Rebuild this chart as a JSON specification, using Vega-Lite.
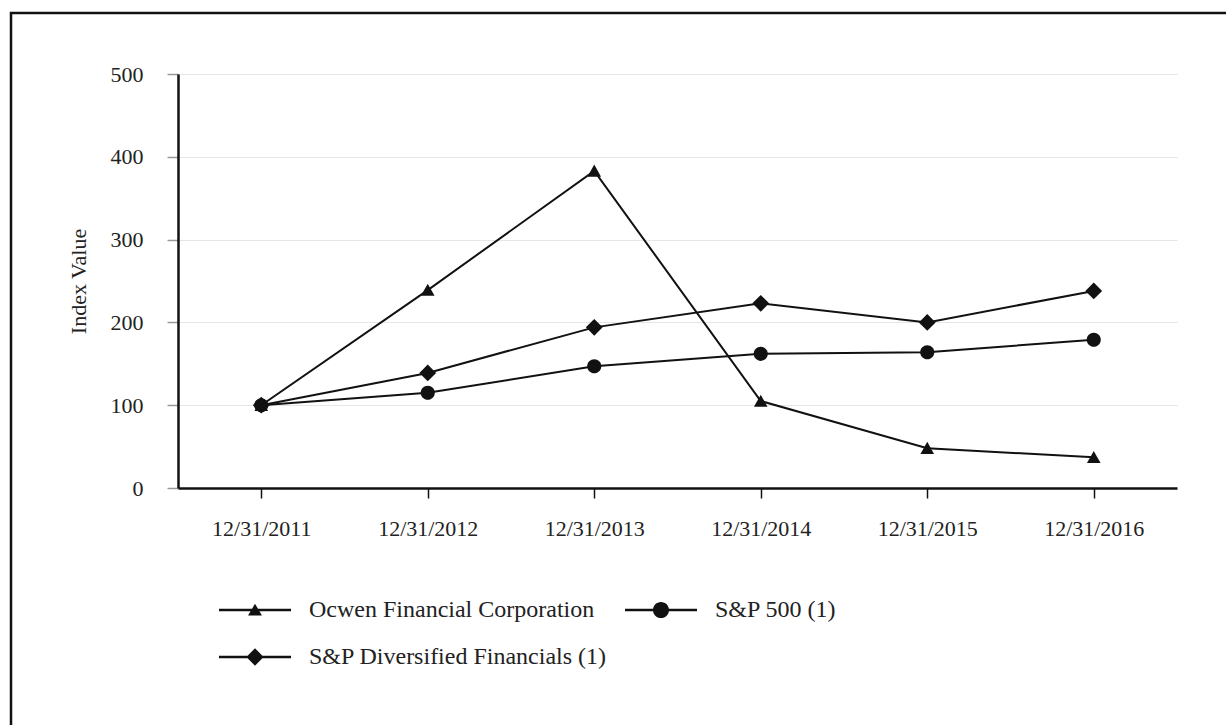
{
  "$schema": "https://vega.github.io/schema/vega-lite/v6.json",
  "width": 1221,
  "height": 718,
  "autosize": {"type": "none"},
  "padding": {"left": 11, "top": 13, "right": -6, "bottom": -6},
  "background": "white",
  "title": {
    "text": "Total Return Performance",
    "font": "Liberation Serif",
    "fontSize": 32,
    "fontWeight": "bold",
    "color": "#111",
    "anchor": "middle",
    "baseline": "alphabetic",
    "offset": 8,
    "dx": 23
  },
  "config": {
    "view": {"stroke": "#111", "strokeWidth": 2.5},
    "axis": {
      "labelFont": "Liberation Serif",
      "labelFontSize": 22,
      "labelColor": "#222",
      "titleFont": "Liberation Serif",
      "titleFontSize": 22,
      "titleFontWeight": "normal",
      "titleColor": "#222",
      "grid": false
    },
    "legend": {
      "labelFont": "Liberation Serif",
      "labelFontSize": 24,
      "labelColor": "#222",
      "labelLimit": 600
    }
  },
  "data": {
    "values": [
      {"date": "12/31/2011", "series": "Ocwen Financial Corporation", "value": 100},
      {"date": "12/31/2012", "series": "Ocwen Financial Corporation", "value": 239},
      {"date": "12/31/2013", "series": "Ocwen Financial Corporation", "value": 383},
      {"date": "12/31/2014", "series": "Ocwen Financial Corporation", "value": 105},
      {"date": "12/31/2015", "series": "Ocwen Financial Corporation", "value": 48},
      {"date": "12/31/2016", "series": "Ocwen Financial Corporation", "value": 37},
      {"date": "12/31/2011", "series": "S&P 500 (1)", "value": 100},
      {"date": "12/31/2012", "series": "S&P 500 (1)", "value": 115},
      {"date": "12/31/2013", "series": "S&P 500 (1)", "value": 147},
      {"date": "12/31/2014", "series": "S&P 500 (1)", "value": 162},
      {"date": "12/31/2015", "series": "S&P 500 (1)", "value": 164},
      {"date": "12/31/2016", "series": "S&P 500 (1)", "value": 179},
      {"date": "12/31/2011", "series": "S&P Diversified Financials (1)", "value": 100},
      {"date": "12/31/2012", "series": "S&P Diversified Financials (1)", "value": 139},
      {"date": "12/31/2013", "series": "S&P Diversified Financials (1)", "value": 194},
      {"date": "12/31/2014", "series": "S&P Diversified Financials (1)", "value": 223},
      {"date": "12/31/2015", "series": "S&P Diversified Financials (1)", "value": 200},
      {"date": "12/31/2016", "series": "S&P Diversified Financials (1)", "value": 238}
    ]
  },
  "encoding": {
    "x": {
      "field": "date",
      "type": "ordinal",
      "scale": {"type": "point", "padding": 0.5, "range": [167, 1166]},
      "axis": {
        "title": null,
        "orient": "bottom",
        "offset": -243,
        "labelAngle": 0,
        "domainColor": "#111",
        "domainWidth": 2.5,
        "tickColor": "#111",
        "tickWidth": 1.5,
        "tickSize": 10,
        "labelPadding": 20
      }
    },
    "y": {
      "field": "value",
      "type": "quantitative",
      "scale": {"domain": [0, 500], "range": [475, 61], "nice": false, "zero": true},
      "axis": {
        "title": "Index Value",
        "offset": -167,
        "values": [0, 100, 200, 300, 400, 500],
        "grid": true,
        "gridColor": "#e6e6e6",
        "gridWidth": 1,
        "domainColor": "#111",
        "domainWidth": 2.5,
        "tickColor": "#999",
        "tickWidth": 1.5,
        "tickSize": 11,
        "labelPadding": 24,
        "titlePadding": 20
      }
    }
  },
  "layer": [
    {
      "mark": {"type": "line", "color": "#111", "strokeWidth": 2},
      "encoding": {"detail": {"field": "series"}}
    },
    {
      "mark": {"type": "point", "filled": true, "color": "#111", "opacity": 1, "size": 256},
      "encoding": {
        "shape": {
          "field": "series",
          "type": "nominal",
          "scale": {
            "domain": ["Ocwen Financial Corporation", "S&P 500 (1)", "S&P Diversified Financials (1)"],
            "range": ["M0,-0.8L0.85,0.72L-0.85,0.72Z", "M0.88,0A0.88,0.88,0,1,1,-0.88,0A0.88,0.88,0,1,1,0.88,0Z", "M0,-1.05L1.05,0L0,1.05L-1.05,0Z"]
          },
          "legend": null
        }
      }
    },
    {
      "data": {"values": []},
      "mark": {"type": "point", "filled": true, "color": "#111", "opacity": 1},
      "encoding": {
        "shape": {
          "field": "series",
          "type": "nominal",
          "scale": {
            "domain": ["Ocwen Financial Corporation", "S&P 500 (1)", "S&P Diversified Financials (1)"],
            "range": [
              "M-1,-0.11H5V0.11H-1ZM2,-0.52L2.58,0.46L1.42,0.46Z",
              "M-1,-0.11H5V0.11H-1ZM2.67,0A0.67,0.67,0,1,1,1.33,0A0.67,0.67,0,1,1,2.67,0Z",
              "M-1,-0.11H5V0.11H-1ZM2,-0.72L2.72,0L2,0.72L1.28,0Z"
            ]
          },
          "legend": {
            "title": null,
            "orient": "none",
            "legendX": 207,
            "legendY": 584,
            "direction": "horizontal",
            "columns": 2,
            "columnPadding": 15,
            "rowPadding": 22,
            "padding": 0,
            "symbolSize": 576,
            "symbolFillColor": "#111",
            "symbolOpacity": 1,
            "labelOffset": 65
          }
        }
      }
    }
  ],
  "resolve": {"scale": {"shape": "independent"}, "legend": {"shape": "independent"}}
}
